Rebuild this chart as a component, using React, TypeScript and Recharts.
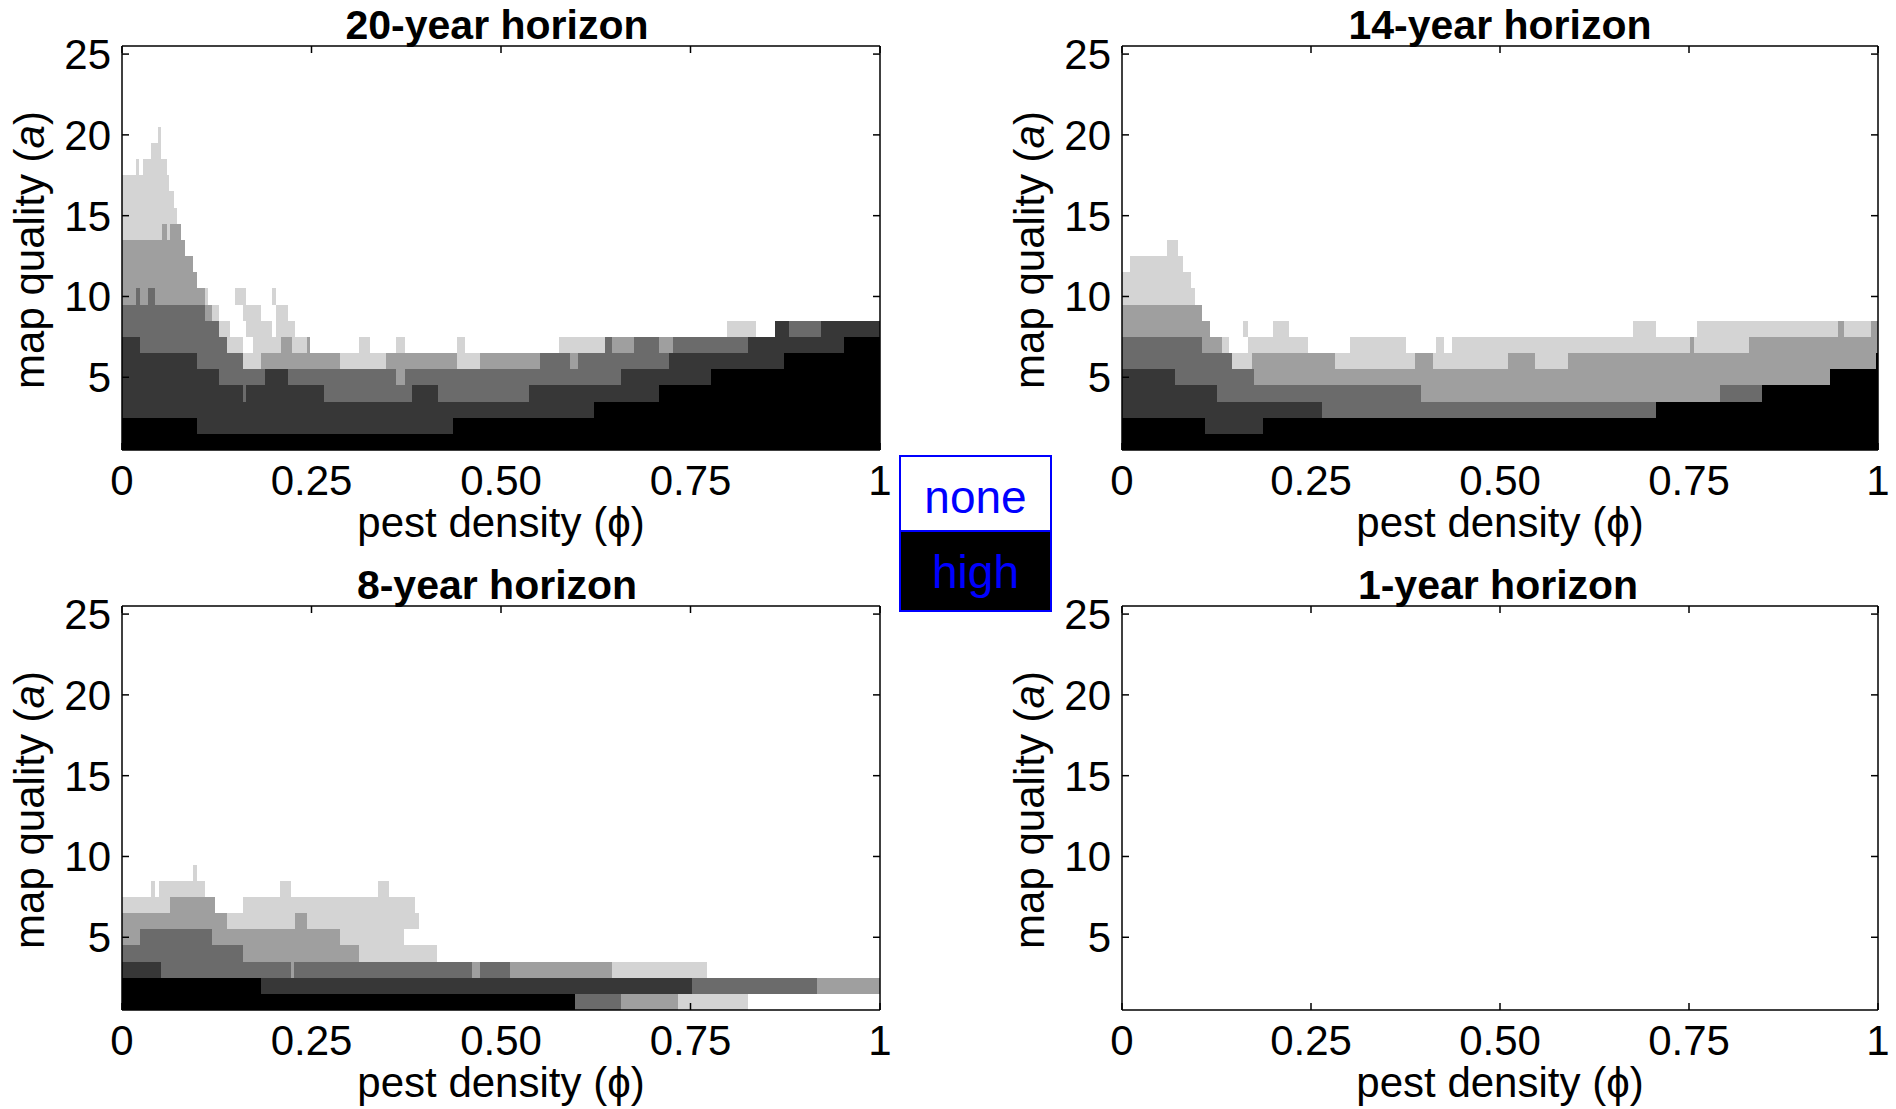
import React from 'react';
import { ScatterChart, Scatter, XAxis, YAxis, ReferenceArea, Label } from 'recharts';

// Each row is one map-quality level a = 1, 2, 3, ... (bottom to top).
// Each segment: [gray level (0 none ... 5 high), x where the segment ends]; segments start at x = 0.
type Seg = [number, number];

const GRAY_LEVELS = ['#ffffff', '#d4d4d4', '#9f9f9f', '#6b6b6b', '#373737', '#000000'];

const rows20: Seg[][] = [
  [[5, 1]],
  [[5, 0.0985], [4, 0.437], [5, 1]],
  [[4, 0.623], [5, 1]],
  [[4, 0.16], [3, 0.163], [4, 0.267], [3, 0.383], [4, 0.417], [3, 0.537], [4, 0.708], [5, 1]],
  [[4, 0.128], [3, 0.188], [4, 0.219], [3, 0.362], [2, 0.373], [3, 0.658], [4, 0.777], [5, 1]],
  [[4, 0.0985], [3, 0.159], [1, 0.184], [2, 0.288], [1, 0.348], [2, 0.442], [1, 0.472], [2, 0.552], [3, 0.591], [2, 0.602], [3, 0.722], [4, 0.873], [5, 1]],
  [[4, 0.024], [3, 0.138], [1, 0.159], [0, 0.173], [1, 0.21], [2, 0.224], [1, 0.244], [2, 0.248], [0, 0.313], [1, 0.327], [0, 0.362], [1, 0.373], [0, 0.442], [1, 0.452], [0, 0.577], [1, 0.637], [3, 0.647], [2, 0.676], [3, 0.708], [2, 0.727], [3, 0.826], [4, 0.952], [5, 1]],
  [[3, 0.128], [1, 0.143], [0, 0.163], [1, 0.198], [0, 0.203], [1, 0.228], [0, 0.798], [1, 0.836], [0, 0.862], [4, 0.88], [3, 0.922], [4, 1]],
  [[3, 0.1095], [2, 0.119], [1, 0.128], [0, 0.159], [1, 0.184], [0, 0.203], [1, 0.219], [0, 1]],
  [[2, 0.019], [3, 0.024], [2, 0.034], [3, 0.044], [2, 0.1095], [1, 0.113], [0, 0.149], [1, 0.163], [0, 0.198], [1, 0.203], [0, 1]],
  [[2, 0.0985], [0, 1]],
  [[2, 0.094], [0, 1]],
  [[2, 0.083], [0, 1]],
  [[1, 0.053], [2, 0.059], [1, 0.063], [2, 0.078], [0, 1]],
  [[1, 0.073], [0, 1]],
  [[1, 0.069], [0, 1]],
  [[1, 0.062], [0, 1]],
  [[0, 0.019], [1, 0.023], [0, 0.028], [1, 0.059], [0, 1]],
  [[0, 0.038], [1, 0.052], [0, 1]],
  [[0, 0.048], [1, 0.052], [0, 1]],
];

const rows14: Seg[][] = [
  [[5, 1]],
  [[5, 0.11], [4, 0.186], [5, 1]],
  [[4, 0.265], [3, 0.706], [5, 1]],
  [[4, 0.125], [3, 0.396], [2, 0.791], [3, 0.847], [5, 1]],
  [[4, 0.07], [3, 0.175], [2, 0.9365], [5, 1]],
  [[3, 0.146], [1, 0.1715], [2, 0.282], [1, 0.387], [2, 0.411], [1, 0.511], [2, 0.546], [1, 0.59], [2, 0.997], [5, 1]],
  [[3, 0.106], [2, 0.132], [1, 0.1415], [0, 0.167], [1, 0.246], [0, 0.302], [1, 0.375], [0, 0.415], [1, 0.4255], [0, 0.436], [1, 0.751], [2, 0.756], [1, 0.83], [2, 1]],
  [[2, 0.116], [0, 0.1605], [1, 0.167], [0, 0.2], [1, 0.221], [0, 0.676], [1, 0.707], [0, 0.761], [1, 0.9475], [2, 0.9555], [1, 0.991], [2, 1]],
  [[2, 0.106], [0, 1]],
  [[1, 0.096], [0, 1]],
  [[1, 0.091], [0, 1]],
  [[0, 0.0106], [1, 0.081], [0, 1]],
  [[0, 0.06], [1, 0.0745], [0, 1]],
];

const rows8: Seg[][] = [
  [[5, 0.598], [3, 0.658], [2, 0.733], [1, 0.826], [0, 1]],
  [[5, 0.183], [4, 0.752], [3, 0.9165], [2, 1]],
  [[4, 0.052], [3, 0.223], [2, 0.227], [3, 0.462], [2, 0.472], [3, 0.512], [2, 0.647], [1, 0.772], [0, 1]],
  [[3, 0.159], [2, 0.313], [1, 0.416], [0, 1]],
  [[2, 0.024], [3, 0.119], [2, 0.288], [1, 0.3725], [0, 1]],
  [[2, 0.138], [1, 0.228], [2, 0.244], [1, 0.392], [0, 1]],
  [[1, 0.063], [2, 0.123], [0, 0.159], [1, 0.387], [0, 1]],
  [[0, 0.038], [1, 0.0435], [0, 0.049], [1, 0.109], [0, 0.209], [1, 0.223], [0, 0.338], [1, 0.352], [0, 1]],
  [[0, 0.094], [1, 0.0985], [0, 1]],
];

const rows1: Seg[][] = [];

const X_TICKS = [0, 0.25, 0.5, 0.75, 1];
const X_TICK_LABELS = ['0', '0.25', '0.50', '0.75', '1'];
const Y_TICKS = [5, 10, 15, 20, 25];
const Y_DOMAIN: [number, number] = [0.5, 25.5];
const X_DOMAIN: [number, number] = [0, 1];
const TITLES = ['20-year horizon', '14-year horizon', '8-year horizon', '1-year horizon'];
const LEGEND_LABELS = ['none', 'high'];

const FONT = '"Liberation Sans", Arial, Helvetica, sans-serif';

type Cell = { x1: number; x2: number; y1: number; y2: number; lvl: number };

function toCells(rows: Seg[][]): Cell[] {
  const cells: Cell[] = [];
  rows.forEach((segs, i) => {
    const a = i + 1;
    let x0 = 0;
    segs.forEach(([lvl, x1]) => {
      if (lvl > 0) cells.push({ x1: x0, x2: x1, y1: a - 0.5, y2: a + 0.5, lvl });
      x0 = x1;
    });
  });
  return cells;
}

const CORNERS = [
  { x: X_DOMAIN[0], y: Y_DOMAIN[0] },
  { x: X_DOMAIN[1], y: Y_DOMAIN[1] },
];

const xFmt = (v: number) => X_TICK_LABELS[X_TICKS.indexOf(v)] ?? String(v);

const axisLine = { stroke: '#000', strokeWidth: 1.5 };
const tickLine = { stroke: '#000', strokeWidth: 1.5 };
const tickStyle = { fontSize: 42, fill: '#000', fontFamily: FONT };
const noShape = () => <g />;

function Panel({ left, top, height, marginRight, title, titleDx, rows }: { left: number; top: number; height: number; marginRight: number; title: string; titleDx: number; rows: Seg[][] }) {
  const cells = toCells(rows);
  const xAxisHeight = height - 450;
  return (
    <div style={{ position: 'absolute', left, top }}>
      <ScatterChart width={900} height={height} margin={{ top: 45, right: marginRight - 1, bottom: 0, left: 0 }}>
        <XAxis
          xAxisId="b"
          dataKey="x"
          type="number"
          domain={X_DOMAIN}
          allowDataOverflow
          ticks={X_TICKS}
          interval={0}
          tickFormatter={xFmt}
          height={xAxisHeight}
          tickSize={-7}
          tickMargin={22}
          tick={tickStyle}
          axisLine={axisLine}
          tickLine={tickLine}
        >
          <Label
            content={(p: any) => {
              const vb = p.viewBox || {};
              return (
                <text x={vb.x + vb.width / 2} y={vb.y + 87} textAnchor="middle" fontSize={42} fontFamily={FONT} fill="#000">
                  pest density (ϕ)
                </text>
              );
            }}
          />
        </XAxis>
        <XAxis
          xAxisId="t"
          dataKey="x"
          orientation="top"
          type="number"
          domain={X_DOMAIN}
          allowDataOverflow
          ticks={X_TICKS}
          interval={0}
          tickFormatter={() => ''}
          height={1}
          tickSize={-7}
          axisLine={axisLine}
          tickLine={tickLine}
        >
          <Label
            content={(p: any) => {
              const vb = p.viewBox || {};
              return (
                <text x={vb.x + vb.width / 2 + titleDx} y={vb.y + vb.height - 7} textAnchor="middle" fontSize={41} fontWeight="bold" fontFamily={FONT} fill="#000">
                  {title}
                </text>
              );
            }}
          />
        </XAxis>
        <YAxis
          yAxisId="l"
          dataKey="y"
          type="number"
          domain={Y_DOMAIN}
          allowDataOverflow
          ticks={Y_TICKS}
          interval={0}
          width={122}
          tickSize={-7}
          tickMargin={18}
          tick={tickStyle}
          axisLine={axisLine}
          tickLine={tickLine}
        >
          <Label
            content={(p: any) => {
              const vb = p.viewBox || {};
              const cx = vb.x + 44;
              const cy = vb.y + vb.height / 2 + 2;
              return (
                <text x={cx} y={cy} transform={`rotate(-90, ${cx}, ${cy})`} textAnchor="middle" fontSize={42} fontFamily={FONT} fill="#000">
                  map quality (<tspan fontStyle="italic">a</tspan>)
                </text>
              );
            }}
          />
        </YAxis>
        <YAxis
          yAxisId="r"
          dataKey="y"
          orientation="right"
          type="number"
          domain={Y_DOMAIN}
          allowDataOverflow
          ticks={Y_TICKS}
          interval={0}
          width={1}
          tickSize={-7}
          tickFormatter={() => ''}
          axisLine={axisLine}
          tickLine={tickLine}
        />
        <Scatter data={CORNERS} xAxisId="b" yAxisId="l" shape={noShape} isAnimationActive={false} />
        <Scatter data={CORNERS} xAxisId="t" yAxisId="r" shape={noShape} isAnimationActive={false} />
        {cells.map((c, i) => (
          <ReferenceArea
            key={i}
            xAxisId="b"
            yAxisId="l"
            x1={c.x1}
            x2={c.x2}
            y1={c.y1}
            y2={c.y2}
            ifOverflow="visible"
            fill={GRAY_LEVELS[c.lvl]}
            fillOpacity={1}
            stroke="none"
            shape={(p: any) => (
              <rect x={p.x} y={p.y} width={p.width} height={p.height} fill={GRAY_LEVELS[c.lvl]} shapeRendering="crispEdges" />
            )}
          />
        ))}
      </ScatterChart>
    </div>
  );
}

function Legend() {
  return (
    <div style={{ position: 'absolute', left: 899, top: 455, width: 153, height: 157 }}>
      <svg width={153} height={157}>
        <rect x={1} y={1} width={151} height={75} fill={GRAY_LEVELS[0]} stroke="#0000ff" strokeWidth={2} />
        <rect x={1} y={76} width={151} height={80} fill={GRAY_LEVELS[5]} stroke="#0000ff" strokeWidth={2} />
        <text x={76.5} y={58} textAnchor="middle" fontSize={46} fontFamily={FONT} fill="#0000ff">{LEGEND_LABELS[0]}</text>
        <text x={76.5} y={133} textAnchor="middle" fontSize={46} fontFamily={FONT} fill="#0000ff">{LEGEND_LABELS[1]}</text>
      </svg>
    </div>
  );
}

export default function App() {
  return (
    <div style={{ position: 'absolute', left: 0, top: 0, width: 1896, height: 1109, overflow: 'hidden', background: '#fff', fontFamily: FONT }}>
      <Panel left={0} top={0} height={560} marginRight={20} title={TITLES[0]} titleDx={-4} rows={rows20} />
      <Panel left={1000} top={0} height={560} marginRight={22} title={TITLES[1]} titleDx={0} rows={rows14} />
      <Panel left={0} top={560} height={549} marginRight={20} title={TITLES[2]} titleDx={-4} rows={rows8} />
      <Panel left={1000} top={560} height={549} marginRight={22} title={TITLES[3]} titleDx={-2} rows={rows1} />
      <Legend />
    </div>
  );
}
